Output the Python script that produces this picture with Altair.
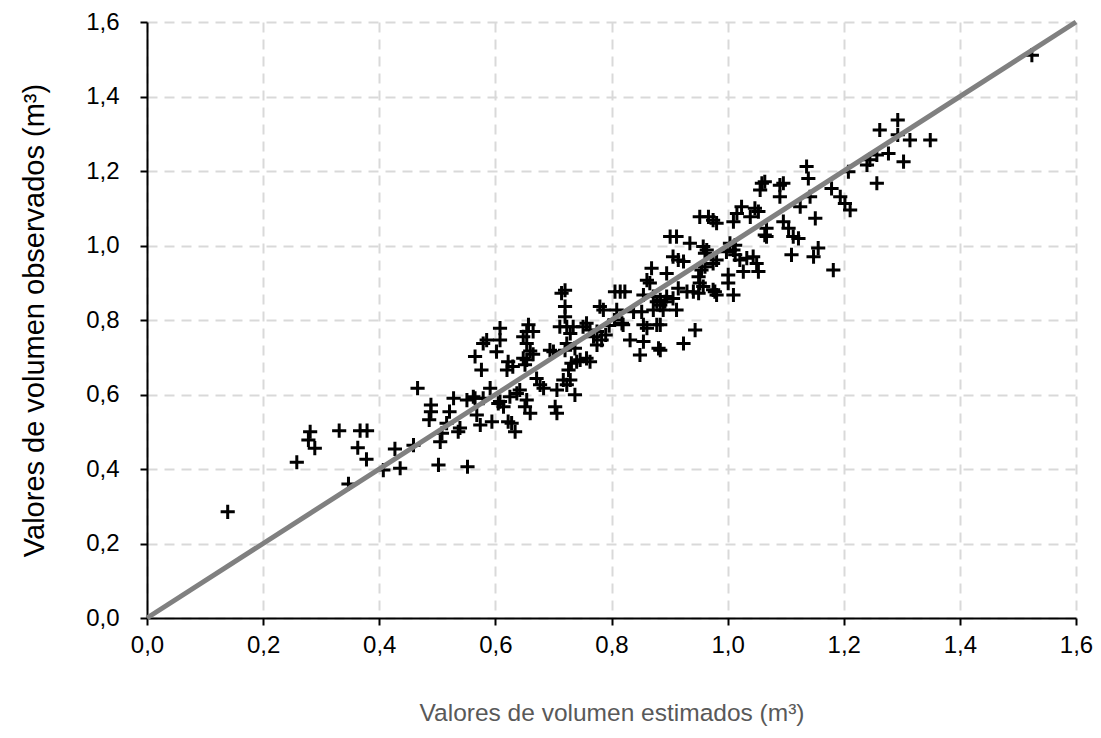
import altair as alt
import pandas as pd

est = [
    0.139, 0.258, 0.281, 0.278, 0.289, 0.331, 0.347, 0.363, 0.367, 0.379,
    0.378, 0.407, 0.436, 0.427, 0.459, 0.466, 0.489, 0.489, 0.486, 0.502,
    0.505, 0.508, 0.521, 0.528, 0.536, 0.539, 0.552, 0.516, 0.551, 0.565,
    0.568, 0.574, 0.594, 0.591, 0.579, 0.608, 0.614, 0.622, 0.634, 0.625,
    0.637, 0.642, 0.654, 0.651, 0.660, 0.579, 0.585, 0.565, 0.576, 0.608,
    0.608, 0.602, 0.622, 0.620, 0.630, 0.648, 0.654, 0.651, 0.657, 0.654,
    0.665, 0.648, 0.654, 0.660, 0.665, 0.671, 0.677, 0.683, 0.706, 0.703,
    0.706, 0.717, 0.723, 0.729, 0.737, 0.726, 0.731, 0.740, 0.763, 0.720,
    0.720, 0.711, 0.723, 0.729, 0.734, 0.723, 0.720, 0.737, 0.700, 0.694,
    0.757, 0.751, 0.763, 0.769, 0.775, 0.775, 0.783, 0.780, 0.786, 0.790,
    0.796, 0.805, 0.714, 0.720, 0.746, 0.757, 0.605, 0.562, 0.628,
    0.849, 0.832, 0.855, 0.881, 0.884, 0.924, 0.944, 0.820, 0.855, 0.861,
    0.884, 0.806, 0.815, 0.823, 0.809, 0.838, 0.852, 0.872, 0.855, 0.872,
    0.878, 0.884, 0.892, 0.889, 0.912, 0.906, 0.915, 0.861, 0.866, 0.869,
    0.895, 0.906, 0.915, 0.924, 0.901, 0.912, 0.935, 0.941, 0.950, 0.952,
    0.950, 0.955, 0.961, 0.964, 0.975, 0.981, 0.978, 0.981, 1.001, 1.001,
    1.010, 0.998, 1.013, 1.021, 1.033, 1.044, 1.050, 1.053, 1.027, 1.004,
    1.013, 1.064, 0.958, 0.961, 1.010, 0.958, 0.975, 0.930, 0.884, 0.895,
    0.818, 0.878,
    0.952, 0.967, 0.975, 0.981, 1.024, 1.047, 1.053, 1.039, 1.010, 1.016,
    1.067, 1.067, 1.059, 1.064, 1.056, 1.090, 1.096, 1.090, 1.136, 1.139,
    1.142, 1.125, 1.151, 1.096, 1.105, 1.113, 1.122, 1.110, 1.148, 1.156,
    1.182, 1.179, 1.194, 1.202, 1.211, 1.208, 1.240, 1.245, 1.257, 1.277,
    1.303, 1.257, 1.262, 1.293, 1.293, 1.314, 1.349, 1.524,
]
obs = [
    0.285, 0.418, 0.500, 0.478, 0.456, 0.503, 0.360, 0.457, 0.503, 0.503,
    0.426, 0.397, 0.402, 0.454, 0.464, 0.617, 0.572, 0.554, 0.532, 0.411,
    0.473, 0.496, 0.554, 0.590, 0.500, 0.510, 0.406, 0.523, 0.585, 0.590,
    0.545, 0.518, 0.527, 0.617, 0.590, 0.581, 0.567, 0.527, 0.500, 0.594,
    0.603, 0.612, 0.585, 0.567, 0.550, 0.737, 0.746, 0.702, 0.666, 0.778,
    0.746, 0.715, 0.688, 0.666, 0.675, 0.697, 0.693, 0.680, 0.787, 0.769,
    0.769, 0.755, 0.737, 0.717, 0.708, 0.643, 0.626, 0.617, 0.612, 0.567,
    0.550, 0.639, 0.626, 0.639, 0.599, 0.666, 0.684, 0.688, 0.688, 0.836,
    0.809, 0.782, 0.782, 0.764, 0.782, 0.737, 0.719, 0.724, 0.715, 0.719,
    0.791, 0.782, 0.773, 0.755, 0.769, 0.733, 0.746, 0.836, 0.827, 0.760,
    0.785, 0.800, 0.872, 0.880, 0.693, 0.697, 0.576, 0.594, 0.523,
    0.706, 0.746, 0.742, 0.724, 0.719, 0.737, 0.773, 0.787, 0.787, 0.778,
    0.787, 0.876, 0.876, 0.876, 0.827, 0.822, 0.822, 0.827, 0.867, 0.863,
    0.849, 0.840, 0.849, 0.827, 0.827, 0.858, 0.885, 0.907, 0.899, 0.939,
    0.925, 0.970, 0.961, 0.957, 1.024, 1.024, 1.006, 0.876, 0.872, 0.899,
    0.916, 0.934, 0.943, 0.988, 0.952, 0.961, 0.876, 0.867, 0.921, 0.899,
    0.867, 0.983, 0.975, 0.961, 0.966, 0.970, 0.952, 0.930, 0.930, 1.006,
    1.001, 1.028, 0.997, 0.979, 0.988, 0.890, 0.881, 0.876, 0.854, 0.863,
    0.791, 0.787,
    1.077, 1.077, 1.068, 1.060, 1.104, 1.100, 1.091, 1.077, 1.064, 1.086,
    1.046, 1.024, 1.167, 1.171, 1.149, 1.162, 1.167, 1.131, 1.212, 1.180,
    1.131, 1.104, 1.073, 1.064, 1.046, 1.024, 1.019, 0.975, 0.970, 0.993,
    0.934, 1.153, 1.131, 1.113, 1.095, 1.198, 1.216, 1.230, 1.243, 1.247,
    1.225, 1.167, 1.310, 1.337, 1.297, 1.283, 1.283, 1.511,
]

line_x = [0.0, 1.6]
line_y = [0.0, 1.6]
tick_vals = [0.0, 0.2, 0.4, 0.6, 0.8, 1.0, 1.2, 1.4, 1.6]

pts = pd.DataFrame({"est": est, "obs": obs})
ref = pd.DataFrame({"est": line_x, "obs": line_y})

label_expr = "replace(format(datum.value, '.1f'), '.', ',')"

common_axis = dict(
    values=tick_vals,
    labelExpr=label_expr,
    labelFont="Liberation Sans",
    labelFontSize=24,
    labelColor="#000000",
    labelFlush=False,
    labelOverlap=False,
    titleFont="Liberation Sans",
    titleFontWeight="normal",
    domainColor="#000000",
    domainWidth=2,
    tickColor="#000000",
    tickWidth=2,
    tickSize=7,
    grid=True,
    gridColor="#d9d9d9",
    gridWidth=2,
    gridDash=[10, 7],
)

x_enc = alt.X(
    "est:Q",
    scale=alt.Scale(domain=[0, 1.6], nice=False, zero=True),
    axis=alt.Axis(
        title="Valores de volumen estimados (m³)",
        titleColor="#595959",
        titleFontSize=24.5,
        titlePadding=44,
        labelPadding=8,
        **common_axis,
    ),
)
y_enc = alt.Y(
    "obs:Q",
    scale=alt.Scale(domain=[0, 1.6], nice=False, zero=True),
    axis=alt.Axis(
        title="Valores de volumen observados (m³)",
        titleColor="#000000",
        titleFontSize=29,
        titlePadding=36,
        labelPadding=21,
        **common_axis,
    ),
)

line = alt.Chart(ref).mark_line(color="#808080", strokeWidth=5, clip=False).encode(
    x=x_enc, y=y_enc
)

points = alt.Chart(pts).mark_point(
    shape="M-1,0L1,0M0,-1L0,1",
    filled=False,
    stroke="#000000",
    strokeWidth=3,
    size=200,
    opacity=1,
).encode(x=x_enc, y=y_enc)

chart = (
    alt.layer(points, line)
    .properties(
        width=929,
        height=596,
        autosize=alt.AutoSizeParams(type="none"),
        padding={"left": 147, "top": 22, "right": 25, "bottom": 120},
        background="white",
    )
    .configure_view(stroke=None)
)

chart.save("out.html", embed_options={"renderer": "svg", "actions": False})
